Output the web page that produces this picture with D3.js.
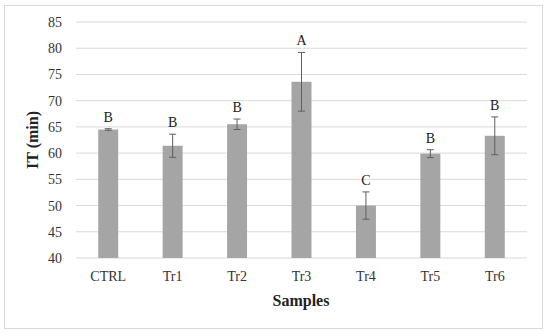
<!DOCTYPE html>
<html><head><meta charset="utf-8">
<script src="https://cdn.jsdelivr.net/npm/d3@7"></script>
<style>body{margin:0;background:#fff}svg{display:block}</style>
</head><body>
<script>
const categories = ["CTRL","Tr1","Tr2","Tr3","Tr4","Tr5","Tr6"];
const values = [64.5, 61.4, 65.5, 73.6, 50.0, 59.9, 63.3];
const errors = [0.15, 2.2, 1.0, 5.6, 2.6, 0.75, 3.6];
const letters = ["B","B","B","A","C","B","B"];
const yTicks = [40,45,50,55,60,65,70,75,80,85];

const W = 550, H = 336;
const svg = d3.select("body").append("svg").attr("width", W).attr("height", H);
const font = "'Liberation Serif', 'DejaVu Serif', serif";

svg.append("rect").attr("x",4.5).attr("y",5.5).attr("width",538).attr("height",323)
  .attr("fill","#fff").attr("stroke","#d9d9d9").attr("stroke-width",1);

const x = d3.scaleBand().domain(categories).range([76,527]).paddingInner(0.69).paddingOuter(0.345);
const y = d3.scaleLinear().domain([40,85]).range([258,22]);

const g = svg.append("g");
g.selectAll("line.grid").data(yTicks).join("line")
  .attr("x1",76).attr("x2",527).attr("y1",d=>y(d)).attr("y2",d=>y(d))
  .attr("stroke","#d9d9d9").attr("stroke-width",1);

const yAxis = d3.axisLeft(y).tickValues(yTicks).tickSize(0).tickPadding(14);
const ya = svg.append("g").attr("transform","translate(76,0)").call(yAxis);
ya.select(".domain").remove();
ya.selectAll("text").attr("font-family",font).attr("font-size",14).attr("fill","#333");

const xAxis = d3.axisBottom(x).tickSize(0).tickPadding(13);
const xa = svg.append("g").attr("transform","translate(0,258)").call(xAxis);
xa.select(".domain").remove();
xa.selectAll("text").attr("font-family",font).attr("font-size",14).attr("fill","#333");

g.selectAll("rect.bar").data(values).join("rect")
  .attr("x",(d,i)=>x(categories[i])).attr("width",x.bandwidth())
  .attr("y",d=>y(d)).attr("height",d=>y(40)-y(d)).attr("fill","#a5a5a5");

const eb = g.selectAll("g.eb").data(values).join("g");
eb.append("line").attr("x1",(d,i)=>x(categories[i])+x.bandwidth()/2).attr("x2",(d,i)=>x(categories[i])+x.bandwidth()/2)
  .attr("y1",(d,i)=>y(d+errors[i])).attr("y2",(d,i)=>y(d-errors[i])).attr("stroke","#5f5f5f").attr("stroke-width",1);
[1,-1].forEach(s=>{
  eb.append("line").attr("x1",(d,i)=>x(categories[i])+x.bandwidth()/2-3.5).attr("x2",(d,i)=>x(categories[i])+x.bandwidth()/2+3.5)
    .attr("y1",(d,i)=>y(d+s*errors[i])).attr("y2",(d,i)=>y(d+s*errors[i])).attr("stroke","#5f5f5f").attr("stroke-width",1);
});

g.selectAll("text.lbl").data(letters).join("text")
  .attr("x",(d,i)=>x(categories[i])+x.bandwidth()/2)
  .attr("y",(d,i)=>y(values[i]+errors[i])-7)
  .attr("text-anchor","middle").attr("font-family",font).attr("font-size",14).attr("fill","#222").text(d=>d);

svg.append("text").attr("x",301).attr("y",306).attr("text-anchor","middle")
  .attr("font-family",font).attr("font-size",16).attr("font-weight","bold").attr("fill","#222").text("Samples");
svg.append("text").attr("transform","translate(38,140) rotate(-90)").attr("text-anchor","middle")
  .attr("font-family",font).attr("font-size",16).attr("font-weight","bold").attr("fill","#222").text("IT (min)");
</script>
</body></html>
